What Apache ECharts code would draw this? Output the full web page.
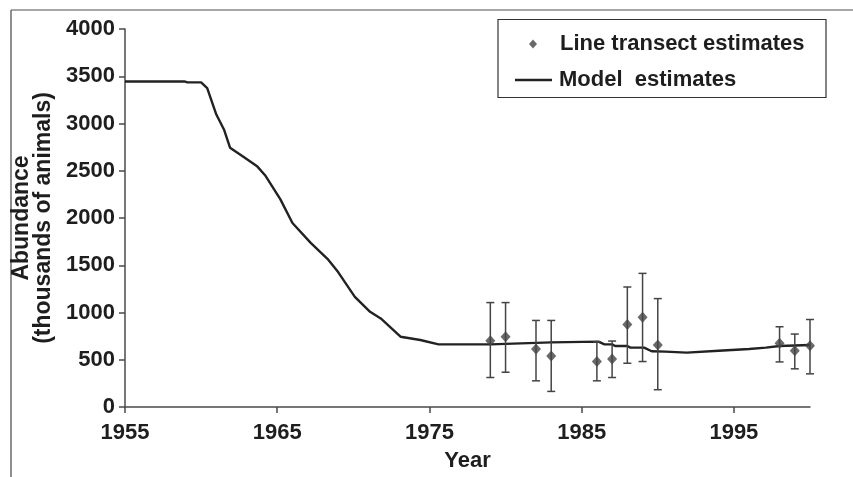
<!DOCTYPE html>
<html>
<head>
<meta charset="utf-8">
<script src="https://cdn.jsdelivr.net/npm/echarts@6/dist/echarts.min.js"></script>
<style>
html,body{margin:0;padding:0;background:#fff;}
#chart{width:853px;height:477px;}
</style>
</head>
<body>
<div id="chart"></div>
<script>
// Model estimates (year, abundance in thousands)
const modelYears = [1955, 1958.9, 1959.1, 1960.0, 1960.4, 1961.0, 1961.5, 1961.9, 1962.8, 1963.7, 1964.2, 1965.2, 1966.0, 1967.2, 1968.3, 1969.0, 1970.1, 1971.1, 1971.8, 1973.1, 1974.4, 1975.6, 1979.0, 1983.0, 1986.1, 1986.5, 1987.0, 1987.2, 1988.0, 1988.2, 1989.1, 1989.6, 1990.5, 1991.9, 1992.0, 1994.0, 1994.1, 1996.0, 1996.1, 1997.1, 1997.2, 1998.0, 1998.1, 2000.0];
const modelValues = [3445, 3445, 3435, 3435, 3375, 3095, 2937, 2744, 2645, 2544, 2453, 2200, 1947, 1737, 1568, 1428, 1165, 1007, 937, 744, 709, 663, 663, 684, 692, 663, 663, 645, 645, 628, 628, 590, 586, 575, 596, 596, 614, 614, 628, 628, 645, 645, 656, 656];

// Line transect estimates with error bars
const surveyYears = [1979, 1980, 1982, 1983, 1986, 1987, 1988, 1989, 1990, 1998, 1999, 2000];
const surveyEstimates = [702, 744, 614, 540, 481, 509, 874, 951, 656, 674, 596, 649];
const surveyLower = [312, 368, 277, 165, 277, 312, 463, 481, 183, 477, 404, 351];
const surveyUpper = [1105, 1105, 916, 916, 691, 698, 1270, 1414, 1147, 849, 772, 926];

// Tick labels
const xTickValues = [1955, 1965, 1975, 1985, 1995];
const yMin = 0, yMax = 4000, yStep = 500;

const FONT = '"Liberation Sans", Arial, sans-serif';
const INK = '#1e1e1e';
const AXIS = '#4a4a4a';

const chart = echarts.init(document.getElementById('chart'), null, {renderer: 'canvas'});

const option = {
  backgroundColor: '#ffffff',
  animation: false,
  grid: {left: 125, right: 43, top: 29, bottom: 68, containLabel: false},
  xAxis: {
    type: 'value',
    min: 1955,
    max: 2000,
    name: 'Year',
    nameLocation: 'middle',
    nameGap: 43,
    nameTextStyle: {fontFamily: FONT, fontWeight: 'bold', fontSize: 22, color: INK},
    axisLine: {show: true, onZero: false, lineStyle: {color: AXIS, width: 1.5}},
    axisTick: {show: true, length: 6, customValues: xTickValues, lineStyle: {color: AXIS, width: 1.5}},
    axisLabel: {customValues: xTickValues, margin: 15, formatter: v => String(v), fontFamily: FONT, fontWeight: 'bold', fontSize: 22, color: INK},
    splitLine: {show: false}
  },
  yAxis: {
    type: 'value',
    min: yMin,
    max: yMax,
    interval: yStep,
    name: 'Abundance\n(thousands of animals)',
    nameLocation: 'middle',
    nameRotate: 90,
    nameGap: 70,
    nameTextStyle: {fontFamily: FONT, fontWeight: 'bold', fontSize: 23, lineHeight: 22, color: INK, align: 'center'},
    axisLine: {show: true, lineStyle: {color: AXIS, width: 1.5}},
    axisTick: {show: true, length: 6, lineStyle: {color: AXIS, width: 1.5}},
    axisLabel: {margin: 10, formatter: v => String(v), fontFamily: FONT, fontWeight: 'bold', fontSize: 22, color: INK},
    splitLine: {show: false}
  },
  legend: [
    {
      data: [{name: 'Line transect estimates', icon: 'diamond'}],
      left: 529, top: 33, padding: 0,
      itemWidth: 8, itemHeight: 9,
      textStyle: {fontFamily: FONT, fontWeight: 'bold', fontSize: 22, color: INK, padding: [0, 0, 0, 18]},
      selectedMode: false
    },
    {
      data: [{name: 'Model  estimates', icon: 'rect'}],
      left: 515, top: 69, padding: 0,
      itemWidth: 37, itemHeight: 2.5,
      itemStyle: {color: '#222'},
      textStyle: {fontFamily: FONT, fontWeight: 'bold', fontSize: 22, color: INK, padding: [0, 0, 0, 2]},
      selectedMode: false
    }
  ],
  graphic: [
    {type: 'rect', shape: {x: 498, y: 19.5, width: 328, height: 78}, style: {fill: 'none', stroke: '#333', lineWidth: 1.2}, silent: true},
    {type: 'line', shape: {x1: 11, y1: 10, x2: 853, y2: 10}, style: {stroke: '#8a8a8a', lineWidth: 1.5}, silent: true},
    {type: 'line', shape: {x1: 11, y1: 10, x2: 11, y2: 477}, style: {stroke: '#6a6a6a', lineWidth: 1.5}, silent: true}
  ],
  series: [
    {
      name: 'Model  estimates',
      type: 'line',
      data: modelYears.map((y, i) => [y, modelValues[i]]),
      showSymbol: false,
      symbol: 'none',
      lineStyle: {color: '#222', width: 2.4},
      itemStyle: {color: '#222'},
      z: 3
    },
    {
      name: 'errorbars',
      type: 'custom',
      data: surveyYears.map((y, i) => [y, surveyLower[i], surveyUpper[i]]),
      encode: {x: 0, y: [1, 2]},
      renderItem: function (params, api) {
        const x = api.value(0);
        const lo = api.coord([x, api.value(1)]);
        const hi = api.coord([x, api.value(2)]);
        const hw = 4;
        const st = {stroke: '#444', lineWidth: 1.5};
        return {
          type: 'group',
          children: [
            {type: 'line', shape: {x1: lo[0], y1: lo[1], x2: hi[0], y2: hi[1]}, style: st},
            {type: 'line', shape: {x1: hi[0] - hw, y1: hi[1], x2: hi[0] + hw, y2: hi[1]}, style: st},
            {type: 'line', shape: {x1: lo[0] - hw, y1: lo[1], x2: lo[0] + hw, y2: lo[1]}, style: st}
          ]
        };
      },
      z: 4
    },
    {
      name: 'Line transect estimates',
      type: 'scatter',
      data: surveyYears.map((y, i) => [y, surveyEstimates[i]]),
      symbol: 'diamond',
      symbolSize: [10, 11],
      itemStyle: {color: '#444'},
      z: 5
    }
  ]
};

chart.setOption(option);
</script>
</body>
</html>
